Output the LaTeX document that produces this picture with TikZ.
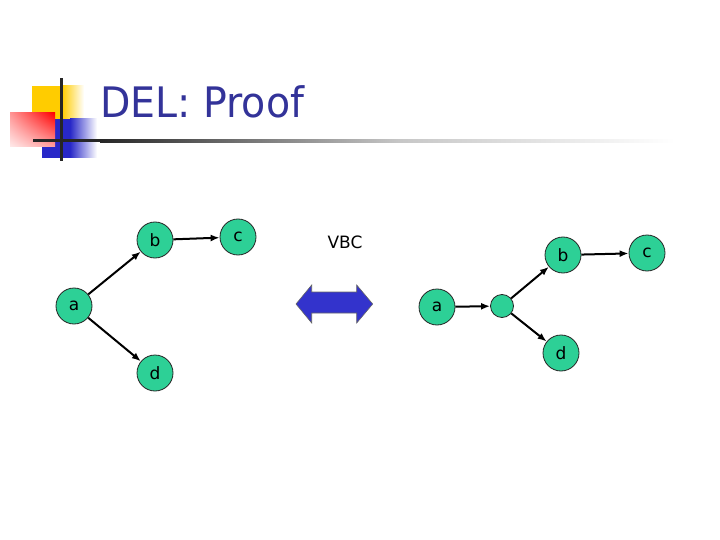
\documentclass[tikz,border=0pt]{standalone}
\usepackage{fontspec}
\setmainfont{DejaVu Sans}
\usetikzlibrary{arrows.meta,shadings}
\definecolor{nodegreen}{RGB}{45,208,150}
\definecolor{titleblue}{RGB}{51,51,153}
\definecolor{arrowblue}{RGB}{51,51,204}
\definecolor{decoyellow}{RGB}{255,204,0}
\definecolor{decoblue}{RGB}{40,40,200}
\definecolor{redA}{RGB}{255,0,0}
\definecolor{redB}{RGB}{255,150,150}
\definecolor{redC}{RGB}{255,160,160}
\definecolor{redD}{RGB}{255,235,235}
\tikzset{
  vnode/.style={circle, draw=black!85, line width=0.8pt, fill=nodegreen, minimum size=36pt, inner sep=0pt, font=\fontsize{17}{17}\selectfont},
  smallnode/.style={circle, draw=black!85, line width=0.8pt, fill=nodegreen, minimum size=23pt, inner sep=0pt},
  arr/.style={-{Latex[length=9pt,width=7pt]}, line width=2pt, black}
}
\begin{document}
\begin{tikzpicture}[x=1pt,y=-1pt]
\useasboundingbox (0,0) rectangle (720,540);
% decoration
\fill[decoyellow] (32,86) rectangle (62,120);
\shade[left color=decoyellow, right color=white] (62,86) rectangle (84,120);
\fill[decoblue] (42,119) rectangle (70,158);
\shade[left color=decoblue, right color=white] (70,119) rectangle (97,158);
\shade[upper right=redA, upper left=redB, lower right=redC, lower left=redD] (10,113) rectangle (55,147);
\fill[black!85] (60,78) rectangle (62.5,161);
\fill[black!85] (33,139.5) rectangle (100,142.5);
\shade[left color=black!85, right color=black!22] (100,139.5) rectangle (400,142.5);
\shade[left color=black!22, right color=white] (400,139.5) rectangle (675,142.5);
% title
\node[anchor=base west, inner sep=0pt, text=titleblue, font=\fontsize{42}{42}\selectfont, xscale=0.94] (title) at (100,118) {DEL: Proof};
% left graph
\node[vnode] (la) at (74,306) {a};
\node[vnode] (lb) at (155,240) {b};
\node[vnode] (lc) at (238,237) {c};
\node[vnode] (ld) at (155,373) {d};
\draw[arr] (la) -- (lb);
\draw[arr] (lb) -- (lc);
\draw[arr] (la) -- (ld);
% middle
\node[font=\fontsize{17}{17}\selectfont] (vbc) at (345,242) {VBC};
\draw[fill=arrowblue, draw=black!60, line width=0.6pt] (296,304) -- (311.7,285) -- (311.7,292) -- (356.7,292) -- (356.7,285) -- (372.7,304) -- (356.7,323) -- (356.7,313) -- (311.7,313) -- (311.7,323) -- cycle;
% right graph
\node[vnode] (ra) at (437,307) {a};
\node[smallnode] (rx) at (502,306) {};
\node[vnode] (rb) at (563,255) {b};
\node[vnode] (rc) at (647,253) {c};
\node[vnode] (rd) at (561,353) {d};
\draw[arr] (ra) -- (rx);
\draw[arr] (rx) -- (rb);
\draw[arr] (rx) -- (rd);
\draw[arr] (rb) -- (rc);
\end{tikzpicture}
\end{document}
